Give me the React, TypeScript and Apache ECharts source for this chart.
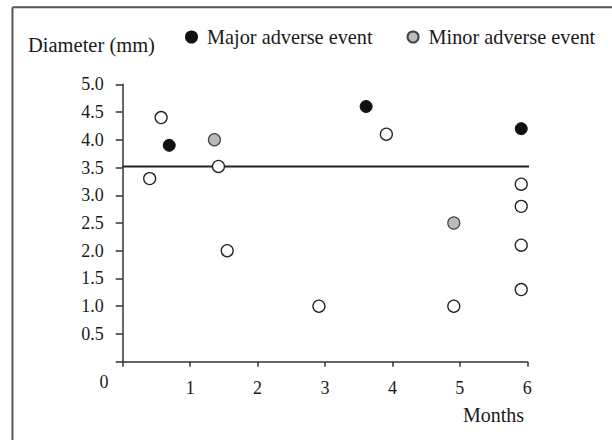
import React, { useEffect, useRef } from "react";
import * as echarts from "echarts";

const noEventPoints: [number, number][] = [
  [0.4, 3.3],
  [0.57, 4.4],
  [1.42, 3.52],
  [1.55, 2.0],
  [2.91, 1.0],
  [3.91, 4.1],
  [5.91, 3.2],
  [5.91, 2.8],
  [5.91, 2.1],
  [5.91, 1.3],
  [4.91, 1.0],
];
const majorPoints: [number, number][] = [
  [0.69, 3.9],
  [3.61, 4.6],
  [5.91, 4.2],
];
const minorPoints: [number, number][] = [
  [1.36, 4.0],
  [4.91, 2.5],
];
const thresholdLine: [number, number][] = [
  [0, 3.52],
  [6.04, 3.52],
];
const seriesNames = ["Major adverse event", "Minor adverse event"];
const yLabel = "Diameter (mm)";
const xLabel = "Months";

const FONT = "'Liberation Serif', 'Times New Roman', serif";

export default function App() {
  const ref = useRef<HTMLDivElement>(null);
  useEffect(() => {
    if (!ref.current) return;
    const chart = echarts.init(ref.current, null, { renderer: "svg" });
    chart.setOption({
      animation: false,
      backgroundColor: "#fff",
      grid: { left: 122.7, right: 84.7, top: 84.3, bottom: 78.3, containLabel: false },
      legend: {
        data: seriesNames,
        left: 180,
        top: 22,
        itemWidth: 11,
        itemHeight: 11,
        itemGap: 34,
        icon: "circle",
        textStyle: { fontFamily: FONT, fontSize: 20.3, color: "#1a1a1a", padding: [0, 0, 0, 5] },
        selectedMode: false,
      },
      xAxis: {
        type: "value",
        min: 0,
        max: 6,
        interval: 1,
        splitLine: { show: false },
        axisLine: { show: true, onZero: false, lineStyle: { color: "#333", width: 1.5 } },
        axisTick: { show: true, length: 5, lineStyle: { color: "#333", width: 1.5 } },
        axisLabel: {
          fontFamily: FONT,
          fontSize: 18,
          color: "#1a1a1a",
          margin: 17,
          formatter: (v: number) => (v === 0 ? "" : String(v)),
        },
      },
      yAxis: {
        type: "value",
        min: 0,
        max: 5,
        interval: 0.5,
        splitLine: { show: false },
        axisLine: { show: true, onZero: false, lineStyle: { color: "#333", width: 1.5 } },
        axisTick: { show: true, length: 7, lineStyle: { color: "#333", width: 1.5 } },
        axisLabel: {
          fontFamily: FONT,
          fontSize: 18,
          color: "#1a1a1a",
          margin: 19,
          formatter: (v: number) => (v === 0 ? "" : v.toFixed(1)),
        },
      },
      graphic: [
        { type: "line", shape: { x1: 12.5, y1: 7.3, x2: 612, y2: 7.3 }, style: { stroke: "#555", lineWidth: 2 } },
        { type: "line", shape: { x1: 12.5, y1: 7.3, x2: 12.5, y2: 440 }, style: { stroke: "#555", lineWidth: 2 } },
        {
          type: "text",
          left: 28,
          top: 34,
          style: { text: yLabel, font: `20.5px ${FONT}`, fill: "#1a1a1a" },
        },
        {
          type: "text",
          x: 493.5,
          y: 415,
          style: { text: xLabel, font: `20px ${FONT}`, fill: "#1a1a1a", align: "center", verticalAlign: "middle" },
        },
        {
          type: "text",
          x: 104,
          y: 382,
          style: { text: "0", font: `18px ${FONT}`, fill: "#1a1a1a", align: "center", verticalAlign: "middle" },
        },
      ],
      series: [
        {
          name: "threshold",
          type: "line",
          data: thresholdLine,
          showSymbol: false,
          symbol: "none",
          clip: false,
          silent: true,
          lineStyle: { color: "#222", width: 2 },
          z: 1,
        },
        {
          name: "none",
          type: "scatter",
          symbol: "circle",
          symbolSize: 12,
          data: noEventPoints,
          itemStyle: { color: "#fff", borderColor: "#222", borderWidth: 1.3, opacity: 1 },
          z: 3,
        },
        {
          name: seriesNames[0],
          type: "scatter",
          symbol: "circle",
          symbolSize: 12,
          data: majorPoints,
          itemStyle: { color: "#111", borderColor: "#111", borderWidth: 1, opacity: 1 },
          z: 3,
        },
        {
          name: seriesNames[1],
          type: "scatter",
          symbol: "circle",
          symbolSize: 12,
          data: minorPoints,
          itemStyle: { color: "#bbb", borderColor: "#444", borderWidth: 1.2, opacity: 1 },
          z: 3,
        },
      ],
    });
    return () => chart.dispose();
  }, []);
  return (
    <div
      ref={ref}
      style={{ position: "absolute", left: 0, top: 0, width: 612, height: 440 }}
    />
  );
}
